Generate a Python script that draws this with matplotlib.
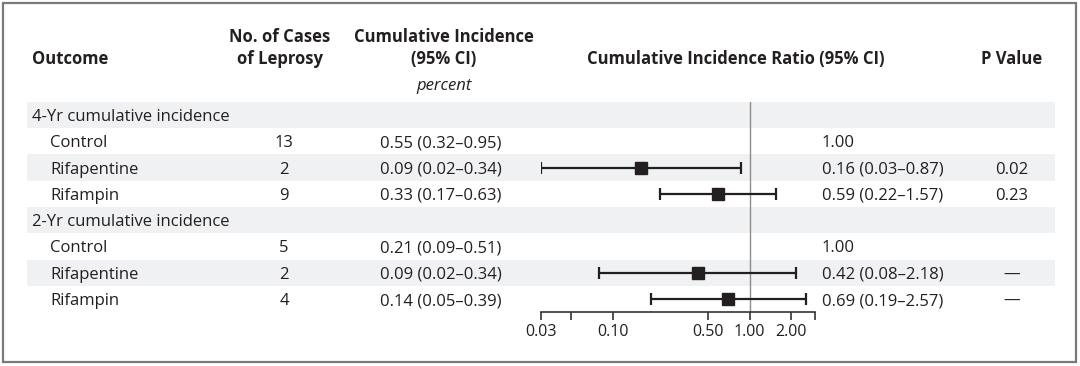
import matplotlib.pyplot as plt
from matplotlib.patches import Rectangle

plt.rcParams['font.family'] = ['Open Sans', 'DejaVu Sans']

groups = ["4-Yr cumulative incidence", "2-Yr cumulative incidence"]
arms = ["Control", "Rifapentine", "Rifampin"]

cases = [[13, 2, 9], [5, 2, 4]]
inc = [[0.55, 0.09, 0.33], [0.21, 0.09, 0.14]]
inc_lo = [[0.32, 0.02, 0.17], [0.09, 0.02, 0.05]]
inc_hi = [[0.95, 0.34, 0.63], [0.51, 0.34, 0.39]]
ratio = [[1.00, 0.16, 0.59], [1.00, 0.42, 0.69]]
ratio_lo = [[None, 0.03, 0.22], [None, 0.08, 0.19]]
ratio_hi = [[None, 0.87, 1.57], [None, 2.18, 2.57]]
pvals = [["", "0.02", "0.23"], ["", "\u2014", "\u2014"]]

ticks = [0.03, 0.05, 0.10, 0.50, 1.00, 2.00, 3.00]
tick_labels = ["0.03", "", "0.10", "0.50", "1.00", "2.00", ""]

TXT = "#231f20"
BAND = "#f0f1f3"
FS = 12
DY = 2  # small downward nudge so text sits centred in rows

fig = plt.figure(figsize=(10.8, 3.66), dpi=100)
bg = fig.add_axes([0, 0, 1, 1])
bg.set_xlim(0, 1080)
bg.set_ylim(366, 0)
bg.axis("off")

# frame
bg.add_patch(Rectangle((3, 3), 1073, 359, fill=False, ec="#7a7a7a", lw=1.6))

# headers
hy1, hy2 = 35 + DY, 57 + DY
bg.text(32, hy2, "Outcome", fontsize=FS, fontweight="bold", color=TXT, va="center")
bg.text(280, hy1, "No. of Cases", fontsize=FS, fontweight="bold", color=TXT, va="center", ha="center")
bg.text(280, hy2, "of Leprosy", fontsize=FS, fontweight="bold", color=TXT, va="center", ha="center")
bg.text(444, hy1, "Cumulative Incidence", fontsize=FS, fontweight="bold", color=TXT, va="center", ha="center")
bg.text(444, hy2, "(95% CI)", fontsize=FS, fontweight="bold", color=TXT, va="center", ha="center")
bg.text(444, 84 + DY, "percent", fontsize=FS, style="italic", color=TXT, va="center", ha="center")
bg.text(736, hy2, "Cumulative Incidence Ratio (95% CI)", fontsize=FS, fontweight="bold", color=TXT, va="center", ha="center")
bg.text(1012, hy2, "P Value", fontsize=FS, fontweight="bold", color=TXT, va="center", ha="center")

row0, row_h = 115, 26.3

# forest axes
top_px, axis_px = 102, 312
x0_px, x1_px = 541, 815
ax = fig.add_axes([x0_px / 1080, (366 - axis_px) / 366,
                   (x1_px - x0_px) / 1080, (axis_px - top_px) / 366])
ax.set_facecolor("none")
ax.set_xscale("log")
ax.set_xlim(0.03, 3.0)
ax.set_ylim((axis_px - row0) / row_h, -(row0 - top_px) / row_h)

row = 0
for g in range(2):
    y = row0 + row * row_h
    bg.add_patch(Rectangle((27, y - row_h / 2), 1028, row_h, color=BAND, lw=0))
    bg.text(32, y + DY, groups[g], fontsize=FS, color=TXT, va="center")
    row += 1
    for a in range(3):
        y = row0 + row * row_h
        if a == 1:
            bg.add_patch(Rectangle((27, y - row_h / 2), 1028, row_h, color=BAND, lw=0))
        ty = y + DY
        bg.text(50, ty, arms[a], fontsize=FS, color=TXT, va="center")
        bg.text(284, ty, str(cases[g][a]), fontsize=FS, color=TXT, va="center", ha="center")
        bg.text(380, ty, f"{inc[g][a]:.2f} ({inc_lo[g][a]:.2f}\u2013{inc_hi[g][a]:.2f})",
                fontsize=FS, color=TXT, va="center")
        if ratio_lo[g][a] is None:
            rtxt = f"{ratio[g][a]:.2f}"
        else:
            rtxt = f"{ratio[g][a]:.2f} ({ratio_lo[g][a]:.2f}\u2013{ratio_hi[g][a]:.2f})"
            r = ratio[g][a]
            ax.errorbar([r], [row], xerr=[[r - ratio_lo[g][a]], [ratio_hi[g][a] - r]],
                        fmt="s", color=TXT, ms=8.5, elinewidth=1.6, capsize=4.5,
                        capthick=1.6, zorder=3)
        bg.text(822, ty, rtxt, fontsize=FS, color=TXT, va="center")
        bg.text(1012, ty, pvals[g][a], fontsize=FS, color=TXT, va="center", ha="center")
        row += 1

ax.axvline(1.0, color="#8c8c8c", lw=1.0, zorder=1)
for s in ["top", "left", "right"]:
    ax.spines[s].set_visible(False)
ax.spines["bottom"].set_color("#333333")
ax.spines["bottom"].set_linewidth(1.2)
ax.set_yticks([])
ax.set_xticks(ticks)
ax.set_xticklabels(tick_labels)
ax.xaxis.set_minor_locator(plt.NullLocator())
ax.tick_params(axis="x", direction="out", length=6, width=1.2, color="#333333",
               labelsize=11.5, labelcolor=TXT, pad=3)

fig.savefig("out.png", dpi=100)
